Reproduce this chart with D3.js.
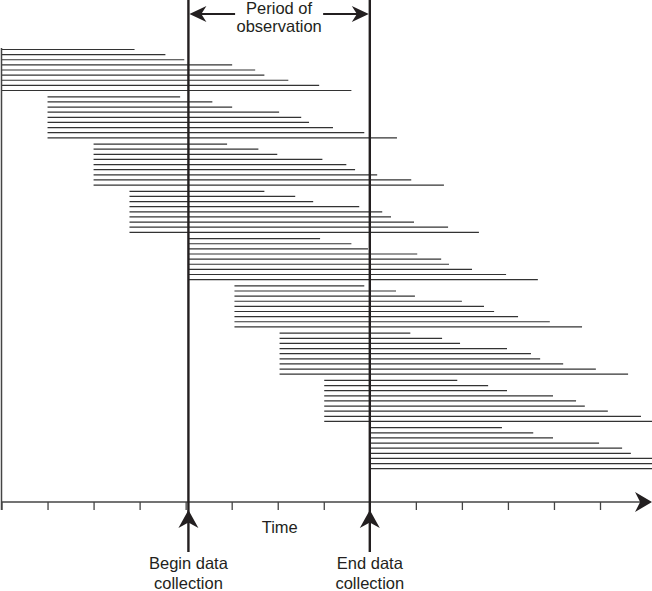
<!DOCTYPE html>
<html>
<head>
<meta charset="utf-8">
<script src="https://cdn.jsdelivr.net/npm/d3@7"></script>
<style>
  html, body { margin: 0; padding: 0; background: #fff; }
  svg { display: block; }
  text { font-family: "Liberation Sans", Arial, Helvetica, sans-serif; font-size: 16.5px; fill: #231f20; }
</style>
</head>
<body>
<svg id="chart" width="652" height="591"></svg>
<script>
// start time of each cohort of cases (time units = axis ticks)
const groupStarts = [0, 1.0, 2.0, 2.78, 4.06, 5.06, 6.04, 7.01, 7.99];

// end time of each case, per cohort
const groupEnds = [
  [2.89, 3.56, 3.97, 5.01, 5.51, 5.71, 6.23, 6.90, 7.60],
  [3.88, 4.58, 5.01, 6.03, 6.51, 6.68, 7.20, 7.88, 8.59],
  [4.90, 5.58, 5.99, 6.97, 7.49, 7.68, 8.16, 8.90, 9.61],
  [5.71, 6.38, 6.77, 7.77, 8.27, 8.46, 8.96, 9.70, 10.37],
  [6.92, 7.60, 7.96, 9.03, 9.55, 9.72, 10.22, 10.96, 11.65],
  [7.88, 8.57, 8.98, 10.00, 10.48, 10.70, 11.22, 11.91, 12.61],
  [8.88, 9.57, 9.96, 10.98, 11.50, 11.70, 12.20, 12.91, 13.61],
  [9.90, 10.57, 10.98, 11.98, 12.48, 12.67, 13.17, 13.89, 14.2],
  [10.87, 11.55, 11.98, 12.98, 13.48, 13.67, 14.2, 14.2, 14.2]
];

const axisTicks = [0, 1, 2, 3, 4, 5, 6, 7, 8, 9, 10, 11, 12, 13];
const axisEnd = 14.13;
const beginCollection = 4.06;
const endCollection = 8.0;

const periodLabel = ["Period of", "observation"];
const beginLabel = ["Begin data", "collection"];
const endLabel = ["End data", "collection"];
const axisLabel = "Time";

const ink = "#231f20";
const svg = d3.select("#chart");

const x = d3.scaleLinear().domain([0, 13]).range([1.5, 600]);
const yGroup = d3.scaleBand().domain(d3.range(groupStarts.length)).range([49.5, 475]);
const yRow = d3.scalePoint().domain(d3.range(9)).range([0, 41]);

const axisY = 502;

// arrowhead with a notched back, tip at (tx, ty), pointing along angle (deg)
function arrowHead(g, tx, ty, angle, len, half) {
  g.append("path")
    .attr("d", `M0,0 L${-len},${-half} L${-len * 0.7},0 L${-len},${half} Z`)
    .attr("transform", `translate(${tx},${ty}) rotate(${angle})`)
    .attr("fill", ink);
}

// case lines
const rows = groupEnds.flatMap((ends, g) => ends.map((end, w) => ({g, w, start: groupStarts[g], end})));

svg.append("g")
  .selectAll("line")
  .data(rows)
  .join("line")
    .attr("x1", d => x(d.start))
    .attr("x2", d => x(d.end))
    .attr("y1", d => yGroup(d.g) + yRow(d.w))
    .attr("y2", d => yGroup(d.g) + yRow(d.w))
    .attr("stroke", "#333")
    .attr("stroke-width", 1.2);

// left axis line
svg.append("line")
  .attr("x1", x(0)).attr("x2", x(0))
  .attr("y1", 48).attr("y2", axisY + 8)
  .attr("stroke", "#444").attr("stroke-width", 1.5);

// time axis
const axisG = svg.append("g")
  .attr("transform", `translate(0,${axisY})`)
  .call(d3.axisBottom(x).tickValues(axisTicks).tickSize(8).tickFormat(""));
axisG.select(".domain").remove();
axisG.selectAll(".tick line").attr("stroke", "#444").attr("stroke-width", 1.3);

svg.append("line")
  .attr("x1", x(0)).attr("x2", x(axisEnd) - 10)
  .attr("y1", axisY).attr("y2", axisY)
  .attr("stroke", "#444").attr("stroke-width", 1.5);
arrowHead(svg, x(axisEnd), axisY, 0, 17, 10);

svg.append("text")
  .attr("x", x(6) + 2).attr("y", axisY + 31)
  .attr("text-anchor", "middle")
  .text(axisLabel);

// begin / end of data collection
[[beginCollection, beginLabel], [endCollection, endLabel]].forEach(([t, label]) => {
  const cx = x(t);
  svg.append("line")
    .attr("x1", cx).attr("x2", cx)
    .attr("y1", 0).attr("y2", 552)
    .attr("stroke", ink).attr("stroke-width", 2.4);
  arrowHead(svg, cx, axisY + 8, -90, 18, 10);
  svg.append("text")
    .attr("text-anchor", "middle")
    .selectAll("tspan")
    .data(label)
    .join("tspan")
      .attr("x", cx)
      .attr("y", (_, i) => 569 + i * 20)
      .text(d => d);
});

// period of observation
const midX = (x(beginCollection) + x(endCollection)) / 2;
const periodText = svg.append("text").attr("text-anchor", "middle");
periodText.selectAll("tspan")
  .data(periodLabel)
  .join("tspan")
    .attr("x", midX)
    .attr("y", (_, i) => 14 + i * 18)
    .text(d => d);

const halfGap = periodText.select("tspan").node().getComputedTextLength() / 2 + 11;
const arrowY = 14;
svg.append("line")
  .attr("x1", x(beginCollection) + 8).attr("x2", midX - halfGap)
  .attr("y1", arrowY).attr("y2", arrowY)
  .attr("stroke", ink).attr("stroke-width", 2);
svg.append("line")
  .attr("x1", midX + halfGap).attr("x2", x(endCollection) - 8)
  .attr("y1", arrowY).attr("y2", arrowY)
  .attr("stroke", ink).attr("stroke-width", 2);
arrowHead(svg, x(beginCollection) + 1, arrowY, 180, 17, 8);
arrowHead(svg, x(endCollection) - 1, arrowY, 0, 17, 8);
</script>
</body>
</html>
